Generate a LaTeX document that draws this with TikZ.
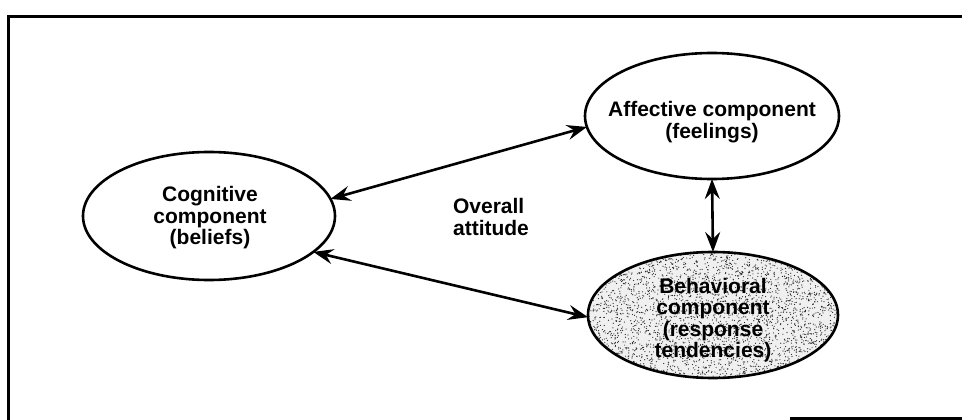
\documentclass[tikz,border=0pt]{standalone}
\usepackage{fontspec}
\setmainfont{Liberation Sans}
\usetikzlibrary{arrows.meta,shapes.geometric}

\tikzset{
  comp/.style={ellipse, draw=black, line width=2.6pt, inner sep=0pt, outer sep=0pt},
  lbl/.style={font=\fontsize{21}{21.5}\selectfont\bfseries, align=center, inner sep=0pt},
  link/.style={line width=2.6pt, {Stealth[length=20pt,width=15pt,inset=7pt]}-{Stealth[length=20pt,width=15pt,inset=7pt]}},
  frameline/.style={line width=3pt}
}

\begin{document}
\begin{tikzpicture}[x=1pt,y=-1pt]
  \useasboundingbox (0,0) rectangle (962,420);

  % outer frame, open on the right
  \coordinate (ftl) at (8,17);
  \coordinate (ftr) at (970,17);
  \coordinate (fbl) at (8,425);
  \coordinate (fbs) at (790,418);
  \coordinate (fbe) at (970,418);
  \draw[frameline] (ftr) -- (ftl) -- (fbl);
  \draw[frameline] (fbs) -- (fbe);

  % the three components
  \node[comp, minimum width=252pt, minimum height=128pt] (cog) at (209,216) {};
  \node[comp, minimum width=254pt, minimum height=126pt] (aff) at (712,116) {};

  % stippled behavioural ellipse
  \begin{scope}
    \clip (713,315) ellipse [x radius=125pt, y radius=63pt];
    \fill[gray!12] (713,315) ellipse [x radius=125pt, y radius=63pt];
    \pgfmathsetseed{4711}
    \foreach \i in {1,...,3400}{
      \fill[black!85] ({713+125*rand},{315+63*rand}) circle (0.6pt);
    }
  \end{scope}
  \node[comp, minimum width=250pt, minimum height=126pt] (beh) at (713,315) {};

  % labels
  \node[lbl] (cogtxt) at (210,218) {Cognitive\\component\\(beliefs)};
  \node[lbl] (afftxt) at (712,122) {Affective component\\(feelings)};
  \node[lbl] (behtxt) at (713,320) {Behavioral\\component\\(response\\tendencies)};
  \node[lbl, align=left] (overall) at (491,217) {Overall\\attitude};

  % two-way links
  \draw[link] (cog.8) -- (aff.185);
  \draw[link] (cog.-19) -- (beh.181);
  \draw[link] (aff.270) -- (beh.90);
\end{tikzpicture}
\end{document}
